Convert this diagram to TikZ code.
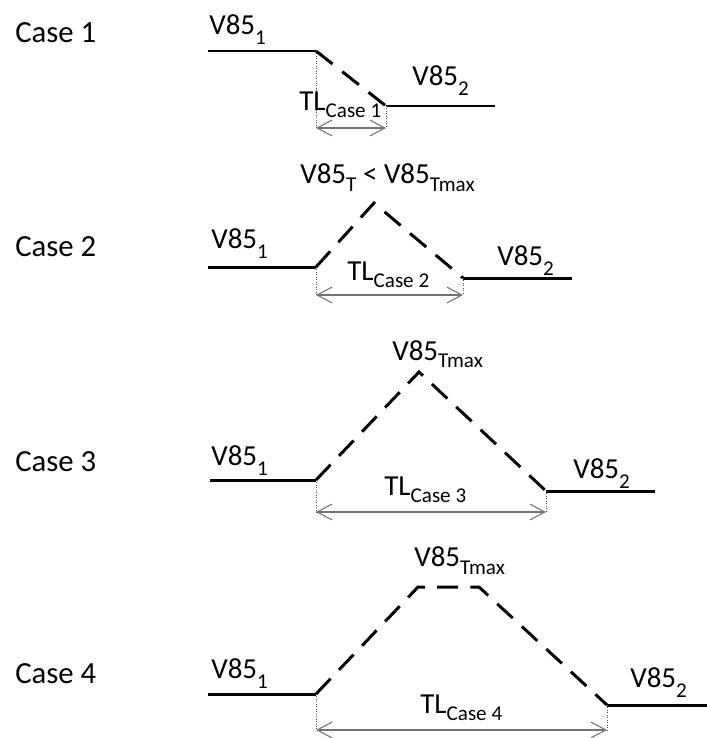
\documentclass[tikz,border=0pt]{standalone}
\usepackage{fontspec}
\setmainfont{Carlito}
\usetikzlibrary{arrows.meta}
% lowered subscript, as the figure sets it
\newcommand{\lsub}[2][6pt]{\raisebox{-#1}{\fontsize{12}{14}\selectfont #2}}

\begin{document}
\begin{tikzpicture}[x=0.02cm,y=-0.02cm,
    road/.style={line width=1.7pt},
    ramp/.style={line width=1.7pt,dash pattern=on 12pt off 7pt},
    guide/.style={densely dotted,line width=0.4pt,black!70},
    span/.style={{Straight Barb[length=8.5pt,width=9pt]}-{Straight Barb[length=8.5pt,width=9pt]},line width=0.6pt,black!55},
    lbl/.style={anchor=base west,inner sep=0pt,font=\fontsize{16.5}{19}\selectfont},
    case/.style={anchor=base west,inner sep=0pt,font=\fontsize{17.5}{21}\selectfont}]
\useasboundingbox (0,0) rectangle (707,738);

% Case 1
\node[case] (case1) at (15,42) {Case 1};
\coordinate (a1) at (208,51);
\coordinate (b1) at (316,51);
\coordinate (c1) at (386,106);
\coordinate (d1) at (495,106);
\coordinate (p1) at (316,128);
\coordinate (q1) at (386,128);
\draw[road] (a1) -- (b1);
\draw[ramp] (b1) -- (c1);
\draw[road] (c1) -- (d1);
\draw[guide] (b1) -- (p1);
\draw[guide] (c1) -- (q1);
\draw[span] (p1) -- (q1);
\node[lbl] (v1a) at (209,34) {V85\lsub{1}};
\node[lbl] (v2a) at (412,85) {V85\lsub{2}};
\node[lbl] (tla) at (299,110) {TL\lsub[4.5pt]{Case 1}};

% Case 2
\node[case] (case2) at (15,256) {Case 2};
\coordinate (a2) at (208,267);
\coordinate (b2) at (316,267);
\coordinate (t2) at (374,203);
\coordinate (c2) at (463,278);
\coordinate (d2) at (572,278);
\coordinate (p2) at (316,295);
\coordinate (q2) at (463,295);
\draw[road] (a2) -- (b2);
\draw[ramp] (b2) -- (t2) -- (c2);
\draw[road] (c2) -- (d2);
\draw[guide] (b2) -- (p2);
\draw[guide] (c2) -- (q2);
\draw[span] (p2) -- (q2);
\node[lbl] (v1b) at (211,248) {V85\lsub{1}};
\node[lbl] (v2b) at (497,265) {V85\lsub{2}};
\node[lbl] (vtb) at (300,183) {V85\lsub[5pt]{T} < V85\lsub[5pt]{Tmax}};
\node[lbl] (tlb) at (347,280) {TL\lsub[4.5pt]{Case 2}};

% Case 3
\node[case] (case3) at (15,471) {Case 3};
\coordinate (a3) at (210,480);
\coordinate (b3) at (316,480);
\coordinate (t3) at (419,372);
\coordinate (c3) at (546,491);
\coordinate (d3) at (655,491);
\coordinate (p3) at (316,512);
\coordinate (q3) at (546,512);
\draw[road] (a3) -- (b3);
\draw[ramp] (b3) -- (t3) -- (c3);
\draw[road] (c3) -- (d3);
\draw[guide] (b3) -- (p3);
\draw[guide] (c3) -- (q3);
\draw[span] (p3) -- (q3);
\node[lbl] (v1c) at (211,465) {V85\lsub{1}};
\node[lbl] (v2c) at (573,478) {V85\lsub{2}};
\node[lbl] (vtc) at (392,360) {V85\lsub[4.5pt]{Tmax}};
\node[lbl] (tlc) at (384,495) {TL\lsub[4.5pt]{Case 3}};

% Case 4
\node[case] (case4) at (15,683) {Case 4};
\coordinate (a4) at (208,694);
\coordinate (b4) at (316,694);
\coordinate (t4) at (418,587);
\coordinate (u4) at (479,587);
\coordinate (c4) at (607,705);
\coordinate (d4) at (707,705);
\coordinate (p4) at (316,730);
\coordinate (q4) at (607,730);
\draw[road] (a4) -- (b4);
\draw[ramp] (b4) -- (t4) -- (u4) -- (c4);
\draw[road] (c4) -- (d4);
\draw[guide] (b4) -- (p4);
\draw[guide] (c4) -- (q4);
\draw[span] (p4) -- (q4);
\node[lbl] (v1d) at (211,678) {V85\lsub{1}};
\node[lbl] (v2d) at (630,687) {V85\lsub{2}};
\node[lbl] (vtd) at (414,566) {V85\lsub[5pt]{Tmax}};
\node[lbl] (tld) at (420,713) {TL\lsub[4.5pt]{Case 4}};
\end{tikzpicture}
\end{document}
